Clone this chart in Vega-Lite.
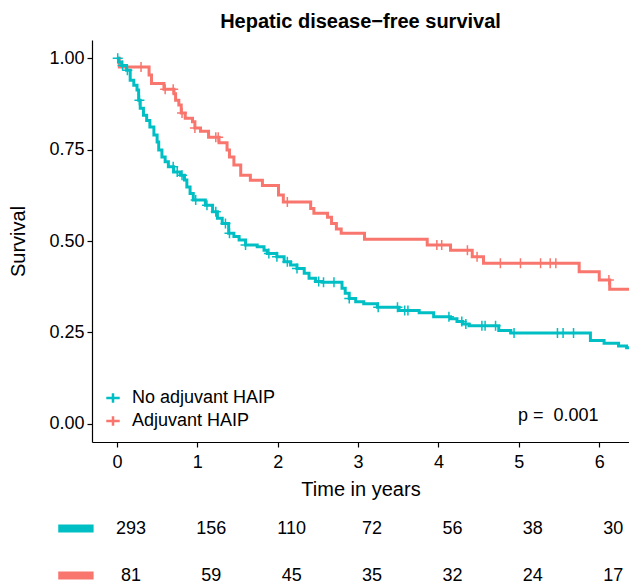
{
  "$schema": "https://vega.github.io/schema/vega-lite/v6.json",
  "padding": {"left": 8, "top": 12, "right": 0, "bottom": 0},
  "background": "white",
  "title": {"text": "Hepatic disease−free survival", "fontSize": 20, "fontWeight": "bold", "font": "Liberation Sans", "color": "#000", "anchor": "middle", "frame": "group", "offset": 8},
  "config": {
    "view": {"stroke": null},
    "font": "Liberation Sans",
    "axis": {"grid": false, "domainColor": "#000", "tickColor": "#000", "labelColor": "#000", "titleColor": "#000", "labelFont": "Liberation Sans", "titleFont": "Liberation Sans", "titleFontWeight": "normal"}
  },
  "datasets": {
    "curves": [
      {"t": 0, "s": 1.0, "g": "Adjuvant HAIP"},
      {"t": 0.03, "s": 0.976, "g": "Adjuvant HAIP"},
      {"t": 0.40, "s": 0.954, "g": "Adjuvant HAIP"},
      {"t": 0.43, "s": 0.931, "g": "Adjuvant HAIP"},
      {"t": 0.585, "s": 0.915, "g": "Adjuvant HAIP"},
      {"t": 0.71, "s": 0.903, "g": "Adjuvant HAIP"},
      {"t": 0.73, "s": 0.885, "g": "Adjuvant HAIP"},
      {"t": 0.77, "s": 0.872, "g": "Adjuvant HAIP"},
      {"t": 0.80, "s": 0.85, "g": "Adjuvant HAIP"},
      {"t": 0.85, "s": 0.836, "g": "Adjuvant HAIP"},
      {"t": 0.94, "s": 0.826, "g": "Adjuvant HAIP"},
      {"t": 0.97, "s": 0.809, "g": "Adjuvant HAIP"},
      {"t": 1.04, "s": 0.80, "g": "Adjuvant HAIP"},
      {"t": 1.14, "s": 0.784, "g": "Adjuvant HAIP"},
      {"t": 1.27, "s": 0.769, "g": "Adjuvant HAIP"},
      {"t": 1.37, "s": 0.749, "g": "Adjuvant HAIP"},
      {"t": 1.40, "s": 0.73, "g": "Adjuvant HAIP"},
      {"t": 1.455, "s": 0.708, "g": "Adjuvant HAIP"},
      {"t": 1.54, "s": 0.68, "g": "Adjuvant HAIP"},
      {"t": 1.66, "s": 0.666, "g": "Adjuvant HAIP"},
      {"t": 1.81, "s": 0.652, "g": "Adjuvant HAIP"},
      {"t": 2.01, "s": 0.626, "g": "Adjuvant HAIP"},
      {"t": 2.07, "s": 0.607, "g": "Adjuvant HAIP"},
      {"t": 2.41, "s": 0.589, "g": "Adjuvant HAIP"},
      {"t": 2.45, "s": 0.576, "g": "Adjuvant HAIP"},
      {"t": 2.62, "s": 0.565, "g": "Adjuvant HAIP"},
      {"t": 2.67, "s": 0.548, "g": "Adjuvant HAIP"},
      {"t": 2.73, "s": 0.533, "g": "Adjuvant HAIP"},
      {"t": 2.79, "s": 0.521, "g": "Adjuvant HAIP"},
      {"t": 3.08, "s": 0.505, "g": "Adjuvant HAIP"},
      {"t": 3.86, "s": 0.489, "g": "Adjuvant HAIP"},
      {"t": 4.15, "s": 0.475, "g": "Adjuvant HAIP"},
      {"t": 4.42, "s": 0.457, "g": "Adjuvant HAIP"},
      {"t": 4.56, "s": 0.439, "g": "Adjuvant HAIP"},
      {"t": 5.75, "s": 0.416, "g": "Adjuvant HAIP"},
      {"t": 6.0, "s": 0.393, "g": "Adjuvant HAIP"},
      {"t": 6.13, "s": 0.368, "g": "Adjuvant HAIP"},
      {"t": 6.5, "s": 0.368, "g": "Adjuvant HAIP"},
      {"t": 0, "s": 1.0, "g": "No adjuvant HAIP"},
      {"t": 0.02, "s": 0.99, "g": "No adjuvant HAIP"},
      {"t": 0.06, "s": 0.98, "g": "No adjuvant HAIP"},
      {"t": 0.12, "s": 0.967, "g": "No adjuvant HAIP"},
      {"t": 0.165, "s": 0.94, "g": "No adjuvant HAIP"},
      {"t": 0.21, "s": 0.926, "g": "No adjuvant HAIP"},
      {"t": 0.25, "s": 0.913, "g": "No adjuvant HAIP"},
      {"t": 0.27, "s": 0.885, "g": "No adjuvant HAIP"},
      {"t": 0.29, "s": 0.863, "g": "No adjuvant HAIP"},
      {"t": 0.33, "s": 0.844, "g": "No adjuvant HAIP"},
      {"t": 0.37, "s": 0.83, "g": "No adjuvant HAIP"},
      {"t": 0.41, "s": 0.812, "g": "No adjuvant HAIP"},
      {"t": 0.46, "s": 0.79, "g": "No adjuvant HAIP"},
      {"t": 0.50, "s": 0.771, "g": "No adjuvant HAIP"},
      {"t": 0.52, "s": 0.749, "g": "No adjuvant HAIP"},
      {"t": 0.56, "s": 0.73, "g": "No adjuvant HAIP"},
      {"t": 0.60, "s": 0.717, "g": "No adjuvant HAIP"},
      {"t": 0.64, "s": 0.703, "g": "No adjuvant HAIP"},
      {"t": 0.705, "s": 0.689, "g": "No adjuvant HAIP"},
      {"t": 0.79, "s": 0.68, "g": "No adjuvant HAIP"},
      {"t": 0.84, "s": 0.667, "g": "No adjuvant HAIP"},
      {"t": 0.87, "s": 0.648, "g": "No adjuvant HAIP"},
      {"t": 0.91, "s": 0.63, "g": "No adjuvant HAIP"},
      {"t": 0.95, "s": 0.612, "g": "No adjuvant HAIP"},
      {"t": 1.10, "s": 0.598, "g": "No adjuvant HAIP"},
      {"t": 1.19, "s": 0.58, "g": "No adjuvant HAIP"},
      {"t": 1.25, "s": 0.562, "g": "No adjuvant HAIP"},
      {"t": 1.31, "s": 0.548, "g": "No adjuvant HAIP"},
      {"t": 1.39, "s": 0.521, "g": "No adjuvant HAIP"},
      {"t": 1.455, "s": 0.512, "g": "No adjuvant HAIP"},
      {"t": 1.52, "s": 0.503, "g": "No adjuvant HAIP"},
      {"t": 1.60, "s": 0.489, "g": "No adjuvant HAIP"},
      {"t": 1.745, "s": 0.484, "g": "No adjuvant HAIP"},
      {"t": 1.83, "s": 0.475, "g": "No adjuvant HAIP"},
      {"t": 1.87, "s": 0.466, "g": "No adjuvant HAIP"},
      {"t": 1.99, "s": 0.457, "g": "No adjuvant HAIP"},
      {"t": 2.08, "s": 0.443, "g": "No adjuvant HAIP"},
      {"t": 2.16, "s": 0.434, "g": "No adjuvant HAIP"},
      {"t": 2.24, "s": 0.425, "g": "No adjuvant HAIP"},
      {"t": 2.33, "s": 0.412, "g": "No adjuvant HAIP"},
      {"t": 2.39, "s": 0.398, "g": "No adjuvant HAIP"},
      {"t": 2.47, "s": 0.389, "g": "No adjuvant HAIP"},
      {"t": 2.55, "s": 0.387, "g": "No adjuvant HAIP"},
      {"t": 2.80, "s": 0.371, "g": "No adjuvant HAIP"},
      {"t": 2.84, "s": 0.357, "g": "No adjuvant HAIP"},
      {"t": 2.89, "s": 0.343, "g": "No adjuvant HAIP"},
      {"t": 2.97, "s": 0.334, "g": "No adjuvant HAIP"},
      {"t": 3.07, "s": 0.328, "g": "No adjuvant HAIP"},
      {"t": 3.24, "s": 0.319, "g": "No adjuvant HAIP"},
      {"t": 3.51, "s": 0.31, "g": "No adjuvant HAIP"},
      {"t": 3.76, "s": 0.304, "g": "No adjuvant HAIP"},
      {"t": 3.94, "s": 0.293, "g": "No adjuvant HAIP"},
      {"t": 4.15, "s": 0.287, "g": "No adjuvant HAIP"},
      {"t": 4.23, "s": 0.28, "g": "No adjuvant HAIP"},
      {"t": 4.30, "s": 0.273, "g": "No adjuvant HAIP"},
      {"t": 4.38, "s": 0.268, "g": "No adjuvant HAIP"},
      {"t": 4.75, "s": 0.255, "g": "No adjuvant HAIP"},
      {"t": 4.90, "s": 0.248, "g": "No adjuvant HAIP"},
      {"t": 5.89, "s": 0.228, "g": "No adjuvant HAIP"},
      {"t": 6.06, "s": 0.22, "g": "No adjuvant HAIP"},
      {"t": 6.24, "s": 0.213, "g": "No adjuvant HAIP"},
      {"t": 6.34, "s": 0.208, "g": "No adjuvant HAIP"},
      {"t": 6.5, "s": 0.208, "g": "No adjuvant HAIP"}
    ],
    "censor": [
      {"t": 0.30, "s": 0.976, "g": "Adjuvant HAIP"},
      {"t": 0.60, "s": 0.915, "g": "Adjuvant HAIP"},
      {"t": 0.70, "s": 0.915, "g": "Adjuvant HAIP"},
      {"t": 0.81, "s": 0.85, "g": "Adjuvant HAIP"},
      {"t": 0.97, "s": 0.809, "g": "Adjuvant HAIP"},
      {"t": 1.23, "s": 0.784, "g": "Adjuvant HAIP"},
      {"t": 1.26, "s": 0.784, "g": "Adjuvant HAIP"},
      {"t": 2.12, "s": 0.607, "g": "Adjuvant HAIP"},
      {"t": 3.98, "s": 0.489, "g": "Adjuvant HAIP"},
      {"t": 4.04, "s": 0.489, "g": "Adjuvant HAIP"},
      {"t": 4.36, "s": 0.475, "g": "Adjuvant HAIP"},
      {"t": 4.48, "s": 0.457, "g": "Adjuvant HAIP"},
      {"t": 4.77, "s": 0.439, "g": "Adjuvant HAIP"},
      {"t": 5.02, "s": 0.439, "g": "Adjuvant HAIP"},
      {"t": 5.27, "s": 0.439, "g": "Adjuvant HAIP"},
      {"t": 5.39, "s": 0.439, "g": "Adjuvant HAIP"},
      {"t": 5.46, "s": 0.439, "g": "Adjuvant HAIP"},
      {"t": 6.12, "s": 0.393, "g": "Adjuvant HAIP"},
      {"t": 0.01, "s": 1.0, "g": "No adjuvant HAIP"},
      {"t": 0.07, "s": 0.98, "g": "No adjuvant HAIP"},
      {"t": 0.13, "s": 0.967, "g": "No adjuvant HAIP"},
      {"t": 0.28, "s": 0.885, "g": "No adjuvant HAIP"},
      {"t": 0.70, "s": 0.703, "g": "No adjuvant HAIP"},
      {"t": 0.75, "s": 0.689, "g": "No adjuvant HAIP"},
      {"t": 0.81, "s": 0.68, "g": "No adjuvant HAIP"},
      {"t": 0.98, "s": 0.612, "g": "No adjuvant HAIP"},
      {"t": 1.12, "s": 0.598, "g": "No adjuvant HAIP"},
      {"t": 1.23, "s": 0.58, "g": "No adjuvant HAIP"},
      {"t": 1.35, "s": 0.548, "g": "No adjuvant HAIP"},
      {"t": 1.40, "s": 0.521, "g": "No adjuvant HAIP"},
      {"t": 1.60, "s": 0.489, "g": "No adjuvant HAIP"},
      {"t": 1.89, "s": 0.466, "g": "No adjuvant HAIP"},
      {"t": 1.99, "s": 0.457, "g": "No adjuvant HAIP"},
      {"t": 2.12, "s": 0.443, "g": "No adjuvant HAIP"},
      {"t": 2.24, "s": 0.425, "g": "No adjuvant HAIP"},
      {"t": 2.51, "s": 0.389, "g": "No adjuvant HAIP"},
      {"t": 2.57, "s": 0.387, "g": "No adjuvant HAIP"},
      {"t": 2.70, "s": 0.387, "g": "No adjuvant HAIP"},
      {"t": 2.89, "s": 0.343, "g": "No adjuvant HAIP"},
      {"t": 3.25, "s": 0.319, "g": "No adjuvant HAIP"},
      {"t": 3.49, "s": 0.319, "g": "No adjuvant HAIP"},
      {"t": 3.58, "s": 0.31, "g": "No adjuvant HAIP"},
      {"t": 3.62, "s": 0.31, "g": "No adjuvant HAIP"},
      {"t": 4.13, "s": 0.293, "g": "No adjuvant HAIP"},
      {"t": 4.29, "s": 0.28, "g": "No adjuvant HAIP"},
      {"t": 4.34, "s": 0.273, "g": "No adjuvant HAIP"},
      {"t": 4.54, "s": 0.268, "g": "No adjuvant HAIP"},
      {"t": 4.58, "s": 0.268, "g": "No adjuvant HAIP"},
      {"t": 4.71, "s": 0.268, "g": "No adjuvant HAIP"},
      {"t": 4.94, "s": 0.248, "g": "No adjuvant HAIP"},
      {"t": 5.48, "s": 0.248, "g": "No adjuvant HAIP"},
      {"t": 5.55, "s": 0.248, "g": "No adjuvant HAIP"},
      {"t": 5.68, "s": 0.248, "g": "No adjuvant HAIP"}
    ],
    "risk": [
      {"t": 0, "n": 293, "g": "No adjuvant HAIP"},
      {"t": 1, "n": 156, "g": "No adjuvant HAIP"},
      {"t": 2, "n": 110, "g": "No adjuvant HAIP"},
      {"t": 3, "n": 72, "g": "No adjuvant HAIP"},
      {"t": 4, "n": 56, "g": "No adjuvant HAIP"},
      {"t": 5, "n": 38, "g": "No adjuvant HAIP"},
      {"t": 6, "n": 30, "g": "No adjuvant HAIP"},
      {"t": 0, "n": 81, "g": "Adjuvant HAIP"},
      {"t": 1, "n": 59, "g": "Adjuvant HAIP"},
      {"t": 2, "n": 45, "g": "Adjuvant HAIP"},
      {"t": 3, "n": 35, "g": "Adjuvant HAIP"},
      {"t": 4, "n": 32, "g": "Adjuvant HAIP"},
      {"t": 5, "n": 24, "g": "Adjuvant HAIP"},
      {"t": 6, "n": 17, "g": "Adjuvant HAIP"}
    ],
    "groups": [
      {"g": "No adjuvant HAIP"},
      {"g": "Adjuvant HAIP"}
    ]
  },
  "vconcat": [
    {
      "width": 537,
      "height": 402,
      "layer": [
        {
          "data": {"name": "curves"},
          "mark": {"type": "line", "interpolate": "step-after", "strokeWidth": 3, "clip": true},
          "encoding": {
            "x": {"field": "t", "type": "quantitative", "scale": {"domain": [-0.31, 6.37], "nice": false, "zero": false},
                  "axis": {"values": [0, 1, 2, 3, 4, 5, 6], "format": "d", "title": "Time in years", "labelFontSize": 18, "titleFontSize": 20, "tickSize": 5, "labelPadding": 6, "titlePadding": 8, "domainWidth": 1.2, "tickWidth": 1.2}},
            "y": {"field": "s", "type": "quantitative", "scale": {"domain": [-0.05, 1.05], "nice": false, "zero": false},
                  "axis": {"values": [0, 0.25, 0.5, 0.75, 1], "format": ".2f", "title": "Survival", "labelFontSize": 18, "titleFontSize": 20, "tickSize": 5, "labelPadding": 3, "titlePadding": 20, "domainWidth": 1.2, "tickWidth": 1.2}},
            "color": {"field": "g", "type": "nominal",
                      "scale": {"domain": ["No adjuvant HAIP", "Adjuvant HAIP"], "range": ["#00BFC4", "#F8766D"]},
                      "legend": {"title": null, "orient": "none", "legendX": 12, "legendY": 349, "labelFontSize": 18, "labelColor": "#000", "labelFont": "Liberation Sans", "symbolType": "M-1,0H1M0,-0.7V0.7", "symbolStrokeWidth": 2.5, "symbolSize": 180, "rowPadding": 3, "labelOffset": 10}}
          }
        },
        {
          "data": {"name": "censor"},
          "mark": {"type": "point", "shape": "M0,-1V1M-1,0H1", "filled": false, "size": 100, "strokeWidth": 1.5, "opacity": 1, "clip": true},
          "encoding": {
            "x": {"field": "t", "type": "quantitative"},
            "y": {"field": "s", "type": "quantitative"},
            "color": {"field": "g", "type": "nominal"}
          }
        },
        {
          "data": {"values": [{"label": "p = \u00a00.001"}]},
          "mark": {"type": "text", "align": "left", "baseline": "middle", "fontSize": 18, "font": "Liberation Sans", "color": "#000"},
          "encoding": {
            "x": {"datum": 4.99},
            "y": {"datum": 0.022},
            "text": {"field": "label"}
          }
        }
      ]
    },
    {
      "width": 537,
      "height": 94,
      "layer": [
        {
          "data": {"name": "groups"},
          "mark": {"type": "rule", "strokeWidth": 8, "clip": false},
          "encoding": {
            "x": {"datum": -0.73, "scale": {"domain": [-0.31, 6.37], "nice": false, "zero": false}, "axis": null},
            "x2": {"datum": -0.29},
            "y": {"field": "g", "type": "nominal", "scale": {"domain": ["No adjuvant HAIP", "Adjuvant HAIP"]}, "axis": null},
            "color": {"field": "g", "type": "nominal", "scale": {"domain": ["No adjuvant HAIP", "Adjuvant HAIP"], "range": ["#00BFC4", "#F8766D"]}, "legend": null}
          }
        },
        {
          "data": {"name": "risk"},
          "mark": {"type": "text", "fontSize": 18, "font": "Liberation Sans", "color": "#000", "dx": 14, "baseline": "middle", "clip": false},
          "encoding": {
            "x": {"field": "t", "type": "quantitative"},
            "y": {"field": "g", "type": "nominal"},
            "text": {"field": "n", "type": "quantitative"}
          }
        }
      ]
    }
  ],
  "spacing": 6
}
